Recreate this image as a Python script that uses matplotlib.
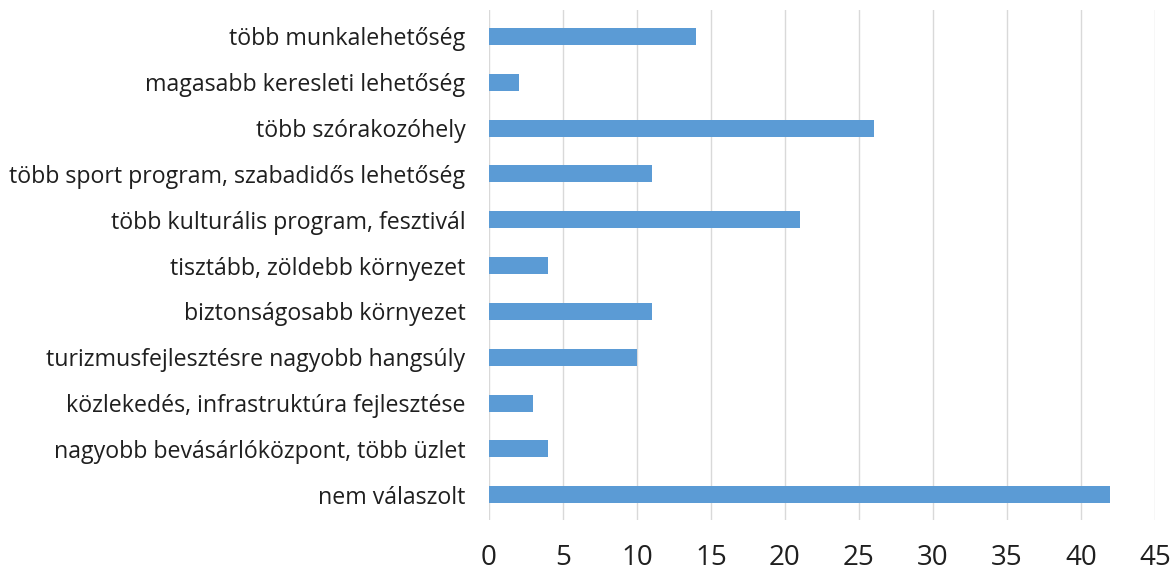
import matplotlib.pyplot as plt
import numpy as np

# categories, top to bottom as in the chart
categories = [
    'több munkalehetőség',
    'magasabb keresleti lehetőség',
    'több szórakozóhely',
    'több sport program, szabadidős lehetőség',
    'több kulturális program, fesztivál',
    'tisztább, zöldebb környezet',
    'biztonságosabb környezet',
    'turizmusfejlesztésre nagyobb hangsúly',
    'közlekedés, infrastruktúra fejlesztése',
    'nagyobb bevásárlóközpont, több üzlet',
    'nem válaszolt',
]
values = [14, 2, 26, 11, 21, 4, 11, 10, 3, 4, 42]
xticks = [0, 5, 10, 15, 20, 25, 30, 35, 40, 45]

plt.rcParams['font.family'] = ['Open Sans', 'DejaVu Sans']

fig = plt.figure( figsize=( 11.7, 5.74 ), dpi=100 )
ax = fig.add_axes( [ 0.418, 0.094, 0.569, 0.889 ] )

ypos = np.arange( len( categories ) )
ax.barh( ypos, values, height=0.37, color='#5B9BD5', zorder=3 )

ax.set_yticks( ypos, categories, fontsize=16.7, color='#1f1f1f' )
ax.set_ylim( len( categories ) - 0.45, -0.58 )
ax.set_xlim( 0, 45 )
ax.set_xticks( xticks, [ str( t ) for t in xticks ], fontsize=20, color='#1f1f1f' )
ax.tick_params( axis='both', length=0 )
ax.tick_params( axis='x', pad=17 )
ax.tick_params( axis='y', pad=17 )
ax.grid( axis='x', color='#D9D9D9', linewidth=1, zorder=0 )
for sp in ax.spines.values():
    sp.set_visible( False )

fig.savefig( 'out.png', dpi=100 )
